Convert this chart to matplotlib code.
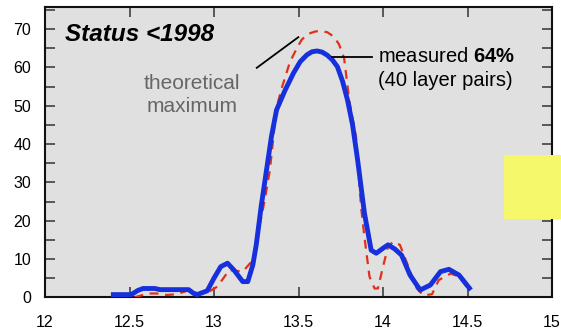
import matplotlib
matplotlib.use("Agg")
import matplotlib.pyplot as plt
from matplotlib.patches import Rectangle
from matplotlib.ticker import MultipleLocator

plt.rcParams['font.family'] = ['Liberation Sans', 'DejaVu Sans']
plt.rcParams['mathtext.fontset'] = 'custom'
plt.rcParams['mathtext.rm'] = 'Liberation Sans'
plt.rcParams['mathtext.bf'] = 'Liberation Sans:bold'

# Measured reflectivity (%) vs wavelength (nm)
measured_x = [12.39, 12.51, 12.55, 12.58, 12.65, 12.68, 12.75, 12.85, 12.88, 12.90,
              12.96, 13.00, 13.04, 13.08, 13.12, 13.17, 13.20, 13.23, 13.25, 13.28,
              13.31, 13.34, 13.37, 13.42, 13.47, 13.51, 13.55, 13.58, 13.61, 13.64,
              13.67, 13.70, 13.73, 13.76, 13.79, 13.82, 13.85, 13.89, 13.93, 13.96,
              14.00, 14.03, 14.07, 14.11, 14.16, 14.22, 14.28, 14.34, 14.39, 14.45,
              14.52]
measured_y = [0.7, 0.7, 1.8, 2.3, 2.3, 2.0, 2.0, 2.0, 1.0, 0.7,
              1.7, 5.0, 8.0, 8.9, 7.0, 4.1, 4.1, 8.5, 13.7, 24.0,
              33.0, 42.0, 48.9, 54.0, 58.5, 61.5, 63.3, 64.1, 64.3, 64.0,
              63.2, 62.0, 60.2, 56.5, 51.5, 45.0, 35.8, 22.0, 12.3, 11.5,
              12.8, 13.7, 12.6, 11.0, 5.8, 1.9, 3.2, 6.7, 7.3, 5.8,
              1.9]

# Theoretical maximum reflectivity (%)
theory_x = [12.53, 12.61, 12.66, 12.72, 12.78, 12.86, 12.90, 12.96, 13.02, 13.09,
            13.17, 13.23, 13.30, 13.33, 13.37, 13.40, 13.45, 13.49, 13.52, 13.56,
            13.60, 13.63, 13.67, 13.71, 13.74, 13.77, 13.80, 13.84, 13.87, 13.89,
            13.92, 13.95, 13.97, 14.00, 14.03, 14.06, 14.10, 14.15, 14.20, 14.24,
            14.29, 14.33, 14.40, 14.45, 14.50]
theory_y = [0.0, 1.0, 1.0, 0.6, 0.8, 2.0, 1.0, 1.2, 2.8, 7.1,
            6.7, 9.7, 25.4, 33.0, 49.5, 54.5, 61.5, 65.0, 67.3, 68.8,
            69.4, 69.5, 69.2, 68.0, 66.0, 62.4, 51.5, 42.0, 23.7, 15.8,
            5.4, 2.3, 2.3, 8.0, 13.2, 14.5, 13.7, 8.0, 2.3, 0.5,
            0.8, 4.5, 6.2, 5.4, 2.5]

x_ticks = [12, 12.5, 13, 13.5, 14, 14.5, 15]
x_tick_labels = ["12", "12.5", "13", "13.5", "14", "14.5", "15"]
y_ticks = [0, 10, 20, 30, 40, 50, 60, 70]

fig = plt.figure(figsize=(5.61, 3.29), dpi=100)
ax = fig.add_axes([45 / 561, (329 - 297.3) / 329, 507 / 561, 290 / 329])
ax.set_facecolor('#e0e0e0')

ax.plot(theory_x, theory_y, color='#e0301a', lw=1.6, dashes=(4, 3), zorder=3)
ax.plot(measured_x, measured_y, color='#1530dc', lw=3.5, solid_joinstyle='round',
        solid_capstyle='butt', zorder=4)

ax.set_xlim(12, 15)
ax.set_ylim(0, 75.7)
ax.set_xticks(x_ticks)
ax.set_xticklabels(x_tick_labels)
ax.set_yticks(y_ticks)
ax.yaxis.set_minor_locator(MultipleLocator(5))
ax.tick_params(axis='both', which='both', direction='in', length=7, width=1.1,
               labelsize=11.5, color='#333333')
ax.tick_params(axis='x', top=True, pad=13)
ax.tick_params(axis='y', right=True, which='both', pad=10)
for s in ax.spines.values():
    s.set_linewidth(1.5)
    s.set_color('#111111')

# Annotations
ax.text(12.118, 68.5, "Status <1998", fontsize=17.5, fontweight='bold',
        fontstyle='italic', ha='left', va='center')
ax.text(12.87, 52.9, "theoretical\nmaximum", fontsize=15, color='#666666',
        ha='center', va='center', linespacing=1.25)
ax.plot([13.253, 13.499], [59.9, 67.9], color='black', lw=1.3, zorder=5)
ax.plot([13.696, 13.933], [62.8, 62.8], color='black', lw=1.3, zorder=5)
ax.text(13.97, 62.8, "measured $\\mathbf{64\\%}$", fontsize=14.5,
        ha='left', va='center')
ax.text(13.97, 56.7, "(40 layer pairs)", fontsize=14.5, ha='left', va='center')

# Yellow marker box at the right edge
fig.patches.append(Rectangle((504 / 561, (329 - 219) / 329), 57 / 561, 64 / 329,
                             transform=fig.transFigure, facecolor='#f5f86a',
                             edgecolor='none', zorder=10))

fig.savefig("out.png", dpi=100)
